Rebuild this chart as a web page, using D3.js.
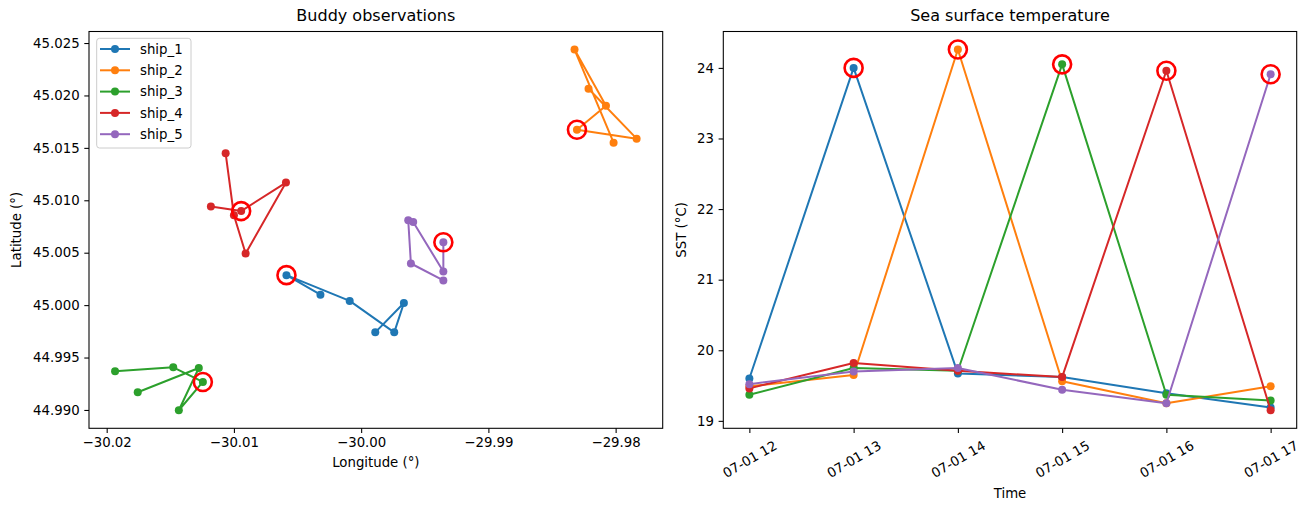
<!DOCTYPE html>
<html>
<head>
<meta charset="utf-8">
<script src="https://cdn.jsdelivr.net/npm/d3@7"></script>
<style>
  body { margin: 0; background: #ffffff; }
  svg { font-family: "DejaVu Sans", sans-serif; }
  .frame { fill: none; stroke: #000; stroke-width: 1.07; }
  .title { font-size: 16px; text-anchor: middle; }
  .label { font-size: 13.3px; text-anchor: middle; }
</style>
</head>
<body>
<svg id="chart" width="1311" height="511"></svg>
<script>
// ship names and colours (matplotlib tab10)
var ships = ["ship_1", "ship_2", "ship_3", "ship_4", "ship_5"];
var colors = ["#1f77b4", "#ff7f0e", "#2ca02c", "#d62728", "#9467bd"];

// observation times (hours of 07-01)
var hours = [12, 13, 14, 15, 16, 17];

// positions
var lonShip1 = [-30.0032, -30.00587, -30.0009, -29.9974, -29.99664, -29.99889];
var latShip1 = [45.0010, 45.00286, 45.0004, 44.9974, 45.0002, 44.9974];
var lonShip2 = [-29.98213, -29.97835, -29.98304, -29.98076, -29.98323, -29.98016];
var latShip2 = [45.02064, 45.01588, 45.01673, 45.01902, 45.02438, 45.0155];
var lonShip3 = [-30.01756, -30.01276, -30.01433, -30.01244, -30.01477, -30.01934];
var latShip3 = [44.99169, 44.994, 44.98997, 44.99267, 44.99407, 44.99369];
var lonShip4 = [-30.01065, -30.0100, -30.00908, -30.00591, -30.00943, -30.01181];
var latShip4 = [45.01448, 45.00857, 45.00492, 45.01169, 45.00897, 45.0094];
var lonShip5 = [-29.99354, -29.99609, -29.9963, -29.99591, -29.99354, -29.99354];
var latShip5 = [45.00235, 45.00397, 45.0081, 45.00793, 45.00321, 45.0060];

// sea surface temperature (°C)
var sstShip1 = [19.60, 24.00, 19.67, 19.62, 19.39, 19.19];
var sstShip2 = [19.49, 19.65, 24.26, 19.56, 19.25, 19.49];
var sstShip3 = [19.37, 19.75, 19.71, 24.05, 19.37, 19.29];
var sstShip4 = [19.46, 19.82, 19.71, 19.62, 23.96, 19.15];
var sstShip5 = [19.52, 19.70, 19.75, 19.44, 19.25, 23.91];

// index of the flagged (outlier) observation for each ship
var flagged = [1, 2, 3, 4, 5];

var lonTicks = [-30.02, -30.01, -30.00, -29.99, -29.98];
var latTicks = [44.990, 44.995, 45.000, 45.005, 45.010, 45.015, 45.020, 45.025];
var sstTicks = [19, 20, 21, 22, 23, 24];

var lons = [lonShip1, lonShip2, lonShip3, lonShip4, lonShip5];
var lats = [latShip1, latShip2, latShip3, latShip4, latShip5];
var ssts = [sstShip1, sstShip2, sstShip3, sstShip4, sstShip5];

var svg = d3.select("#chart");
var L = {x0: 89, x1: 662.7, y0: 31.5, y1: 428.3};
var R = {x0: 723.3, x1: 1296.7, y0: 31.5, y1: 428.3};

function pad(ext) {
  var r = ext[1] - ext[0];
  return [ext[0] - r * 0.05, ext[1] + r * 0.05];
}
function hourDate(h) { return new Date(Date.UTC(2024, 6, 1, h)); }

// style a d3 axis group like matplotlib
function styleAxis(g) {
  g.attr("font-family", "DejaVu Sans, sans-serif").attr("font-size", 13.3);
  g.selectAll(".tick text").attr("fill", "#000").style("font-size", "13.3px");
  g.selectAll(".tick line").attr("stroke", "#000").attr("stroke-width", 1.07);
  g.select(".domain").remove();
}

// ---------- left: map of positions ----------
var x = d3.scaleLinear().domain(pad(d3.extent(d3.merge(lons)))).range([L.x0, L.x1]);
var y = d3.scaleLinear().domain(pad(d3.extent(d3.merge(lats)))).range([L.y1, L.y0]);

var gl = svg.append("g");
ships.forEach(function(s, i) {
  var pts = lons[i].map(function(v, j) { return [x(v), y(lats[i][j])]; });
  gl.append("path")
    .attr("d", d3.line()(pts))
    .attr("fill", "none")
    .attr("stroke", colors[i])
    .attr("stroke-width", 2)
    .attr("stroke-linejoin", "round");
  gl.selectAll(null).data(pts).enter().append("circle")
    .attr("cx", function(d) { return d[0]; })
    .attr("cy", function(d) { return d[1]; })
    .attr("r", 4)
    .attr("fill", colors[i]);
});
ships.forEach(function(s, i) {
  var k = flagged[i];
  gl.append("circle")
    .attr("cx", x(lons[i][k])).attr("cy", y(lats[i][k]))
    .attr("r", 9).attr("fill", "none")
    .attr("stroke", "red").attr("stroke-width", 2.6);
});

svg.append("g").attr("transform", "translate(0," + L.y1 + ")")
  .call(d3.axisBottom(x).tickValues(lonTicks).tickFormat(d3.format(".2f"))
    .tickSizeOuter(0).tickSize(4.7).tickPadding(5))
  .call(styleAxis);
svg.append("g").attr("transform", "translate(" + L.x0 + ",0)")
  .call(d3.axisLeft(y).tickValues(latTicks).tickFormat(d3.format(".3f"))
    .tickSizeOuter(0).tickSize(4.7).tickPadding(4.7))
  .call(styleAxis);
svg.append("rect").attr("class", "frame")
  .attr("x", L.x0).attr("y", L.y0)
  .attr("width", L.x1 - L.x0).attr("height", L.y1 - L.y0);

svg.append("text").attr("class", "title")
  .attr("x", (L.x0 + L.x1) / 2).attr("y", 21).text("Buddy observations");
svg.append("text").attr("class", "label")
  .attr("x", (L.x0 + L.x1) / 2).attr("y", 467).text("Longitude (°)");
svg.append("text").attr("class", "label")
  .attr("transform", "translate(21," + (L.y0 + L.y1) / 2 + ") rotate(-90)")
  .text("Latitude (°)");

// legend
var lg = svg.append("g");
lg.append("rect")
  .attr("x", 96.7).attr("y", 38.3).attr("width", 94.3).attr("height", 109.7)
  .attr("rx", 2.8).attr("fill", "#fff").attr("fill-opacity", 0.8)
  .attr("stroke", "#cccccc").attr("stroke-width", 1);
ships.forEach(function(s, i) {
  var yy = 49 + i * 21.3;
  lg.append("line").attr("x1", 100).attr("x2", 130).attr("y1", yy).attr("y2", yy)
    .attr("stroke", colors[i]).attr("stroke-width", 2);
  lg.append("circle").attr("cx", 115).attr("cy", yy).attr("r", 4).attr("fill", colors[i]);
  lg.append("text").attr("x", 140).attr("y", yy + 4.8)
    .style("font-size", "13.3px").text(s);
});

// ---------- right: SST time series ----------
var xt = d3.scaleUtc()
  .domain(pad([hourDate(hours[0]), hourDate(hours[hours.length - 1])].map(Number)).map(function(v) { return new Date(v); }))
  .range([R.x0, R.x1]);
var yt = d3.scaleLinear().domain(pad(d3.extent(d3.merge(ssts)))).range([R.y1, R.y0]);

var gr = svg.append("g");
ships.forEach(function(s, i) {
  var pts = hours.map(function(h, j) { return [xt(hourDate(h)), yt(ssts[i][j])]; });
  gr.append("path")
    .attr("d", d3.line()(pts))
    .attr("fill", "none")
    .attr("stroke", colors[i])
    .attr("stroke-width", 2)
    .attr("stroke-linejoin", "round");
  gr.selectAll(null).data(pts).enter().append("circle")
    .attr("cx", function(d) { return d[0]; })
    .attr("cy", function(d) { return d[1]; })
    .attr("r", 4)
    .attr("fill", colors[i]);
});
ships.forEach(function(s, i) {
  var k = flagged[i];
  gr.append("circle")
    .attr("cx", xt(hourDate(hours[k]))).attr("cy", yt(ssts[i][k]))
    .attr("r", 9).attr("fill", "none")
    .attr("stroke", "red").attr("stroke-width", 2.6);
});

var axt = svg.append("g").attr("transform", "translate(0," + R.y1 + ")")
  .call(d3.axisBottom(xt).tickValues(hours.map(hourDate))
    .tickFormat(d3.utcFormat("%m-%d %H")).tickSizeOuter(0).tickSize(4.7))
  .call(styleAxis);
axt.selectAll(".tick text")
  .attr("y", 0).attr("dy", null)
  .attr("text-anchor", "middle")
  .attr("dominant-baseline", "central")
  .attr("transform", "translate(0,31) rotate(-30)");
svg.append("g").attr("transform", "translate(" + R.x0 + ",0)")
  .call(d3.axisLeft(yt).tickValues(sstTicks).tickFormat(d3.format("d"))
    .tickSizeOuter(0).tickSize(4.7).tickPadding(4.7))
  .call(styleAxis);
svg.append("rect").attr("class", "frame")
  .attr("x", R.x0).attr("y", R.y0)
  .attr("width", R.x1 - R.x0).attr("height", R.y1 - R.y0);

svg.append("text").attr("class", "title")
  .attr("x", (R.x0 + R.x1) / 2).attr("y", 21).text("Sea surface temperature");
svg.append("text").attr("class", "label")
  .attr("x", (R.x0 + R.x1) / 2).attr("y", 498).text("Time");
svg.append("text").attr("class", "label")
  .attr("transform", "translate(686," + (R.y0 + R.y1) / 2 + ") rotate(-90)")
  .text("SST (°C)");
</script>
</body>
</html>
